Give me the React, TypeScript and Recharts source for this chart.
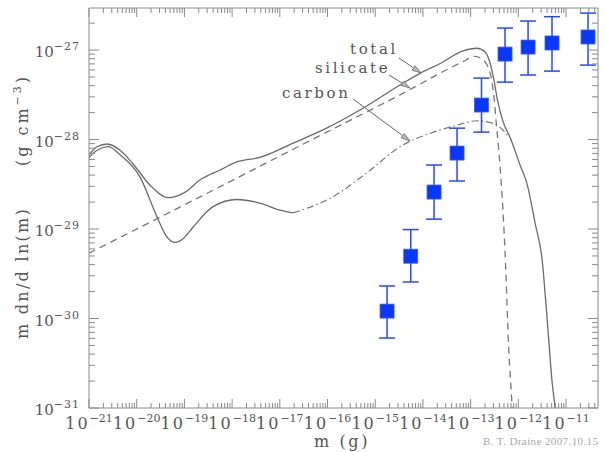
import React from 'react';
import { ComposedChart, Line, Scatter, XAxis, YAxis, ErrorBar } from 'recharts';

// ---- data (log10 values) ----
const totalLogM = [-21, -20.83, -20.62, -20.35, -20.08, -19.72, -19.34, -18.99, -18.67, -18.25, -17.9, -17.42, -16.72, -16.01, -15.32, -14.48, -14.06, -13.64, -13.16, -12.87, -12.7, -12.59, -12.51, -12.43, -12.32, -12.17, -11.96, -11.82, -11.65, -11.5, -11.4, -11.29, -11.23, -11.15];
const totalLogV = [-28.17, -28.08, -28.05, -28.12, -28.27, -28.51, -28.65, -28.59, -28.45, -28.34, -28.25, -28.2, -28.04, -27.87, -27.67, -27.39, -27.26, -27.15, -27.01, -26.98, -27.02, -27.15, -27.34, -27.58, -27.8, -27.98, -28.29, -28.49, -28.93, -29.35, -29.98, -30.72, -31.0, -31.6];

const silLogM = [-21, -18.67, -16.58, -14.48, -13.16, -12.91, -12.74, -12.59, -12.51, -12.45, -12.41, -12.28, -12.2, -12.13, -12.09];
const silLogV = [-29.27, -28.64, -28.07, -27.5, -27.13, -27.07, -27.11, -27.26, -27.53, -27.89, -28.12, -29.24, -30.35, -31.0, -31.5];

const carbonSolidLogM = [-21, -20.83, -20.6, -20.35, -19.93, -19.57, -19.39, -19.2, -19.01, -18.82, -18.4, -17.9, -17.42, -17.0, -16.72];
const carbonSolidLogV = [-28.2, -28.12, -28.08, -28.17, -28.42, -28.87, -29.07, -29.15, -29.1, -28.98, -28.75, -28.67, -28.71, -28.79, -28.82];

const carbonDashLogM = [-16.72, -15.89, -15.17, -14.48, -13.79, -13.29, -12.87, -12.53, -12.28, -12.2];
const carbonDashLogV = [-28.82, -28.64, -28.37, -28.08, -27.92, -27.84, -27.79, -27.82, -27.92, -27.98];

const pointM = [1.77e-15, 5.55e-15, 1.71e-14, 5.19e-14, 1.69e-13, 5.26e-13, 1.6e-12, 5.08e-12, 2.89e-11];
const pointV = [1.21e-30, 4.97e-30, 2.59e-29, 7.06e-29, 2.43e-28, 9.02e-28, 1.08e-27, 1.2e-27, 1.4e-27];
const pointLo = [6.05e-31, 2.56e-30, 1.29e-29, 3.44e-29, 1.21e-28, 4.38e-28, 5.26e-28, 5.82e-28, 6.79e-28];
const pointHi = [2.31e-30, 9.86e-30, 5.19e-29, 1.34e-28, 4.86e-28, 1.76e-27, 2.11e-27, 2.36e-27, 2.59e-27];

const xDecades = [-21, -20, -19, -18, -17, -16, -15, -14, -13, -12, -11];
const yDecades = [-31, -30, -29, -28, -27];
const minorMults = [2, 3, 4, 5, 6, 7, 8, 9];

const X_DOMAIN = [1e-21, Math.pow(10, -10.33)];
const Y_DOMAIN = [1e-31, Math.pow(10, -26.53)];

// ---- build tables ----
const toSeries = (lm: number[], lv: number[]) => lm.map((m, i) => ({ m: Math.pow(10, m), v: Math.pow(10, lv[i]) }));
const totalData = toSeries(totalLogM, totalLogV);
const silData = toSeries(silLogM, silLogV);
const carbonSolidData = toSeries(carbonSolidLogM, carbonSolidLogV);
const carbonDashData = toSeries(carbonDashLogM, carbonDashLogV);
const pointData = pointM.map((m, i) => ({ m, v: pointV[i], err: [pointV[i] - pointLo[i], pointHi[i] - pointV[i]] }));

const buildTicks = (decades: number[], dom: number[]) => {
  const out: number[] = [];
  decades.forEach((d) => {
    out.push(Math.pow(10, d));
    minorMults.forEach((k) => {
      const v = k * Math.pow(10, d);
      if (v < dom[1] * 0.999) out.push(v);
    });
  });
  return out.filter((v) => v >= dom[0] * 0.999 && v <= dom[1] * 1.001);
};
const xTicks = buildTicks(xDecades, X_DOMAIN);
const yTicks = buildTicks(yDecades, Y_DOMAIN);

const AXIS = '#8a8a8a';
const TXT = '#555';
const CURVE = '#6a6a6a';
const SERIF = '"DejaVu Serif", serif';

const isMajor = (v: number) => Math.abs(Math.log10(v) - Math.round(Math.log10(v))) < 1e-6;
const expOf = (v: number) => Math.round(Math.log10(v));

const BottomTick = (props: any) => {
  const { x, y, payload } = props;
  const major = isMajor(payload.value);
  const len = major ? 9 : 5;
  return (
    <g>
      <line x1={x} x2={x} y1={y} y2={y - len} stroke={AXIS} strokeWidth={1} />
      {major && (
        <text x={x} y={y + 21} textAnchor="middle" fill={TXT} fontFamily={SERIF} fontSize={16}>
          <tspan letterSpacing={2}>10</tspan>
          <tspan dy={-7} fontSize={11}>{'\u2212' + Math.abs(expOf(payload.value))}</tspan>
        </text>
      )}
    </g>
  );
};
const TopTick = (props: any) => {
  const { x, y, payload } = props;
  const len = isMajor(payload.value) ? 9 : 5;
  return <line x1={x} x2={x} y1={y} y2={y + len} stroke={AXIS} strokeWidth={1} />;
};
const LeftTick = (props: any) => {
  const { x, y, payload } = props;
  const major = isMajor(payload.value);
  const len = major ? 10 : 6;
  return (
    <g>
      <line x1={x} x2={x + len} y1={y} y2={y} stroke={AXIS} strokeWidth={1} />
      {major && (
        <text x={x - 9} y={y + 7} textAnchor="end" fill={TXT} fontFamily={SERIF} fontSize={15}>
          <tspan>10</tspan>
          <tspan dy={-7} fontSize={11} letterSpacing={1}>{'\u2212' + Math.abs(expOf(payload.value))}</tspan>
        </text>
      )}
    </g>
  );
};
const RightTick = (props: any) => {
  const { x, y, payload } = props;
  const len = isMajor(payload.value) ? 10 : 6;
  return <line x1={x} x2={x - len} y1={y} y2={y} stroke={AXIS} strokeWidth={1} />;
};

const Square = (p: any) => (
  <rect x={p.cx - 7} y={p.cy - 7} width={14} height={14} fill="#0a38fa" stroke="#3a5cff" strokeWidth={0.8} />
);

const Arrow = ({ x1, y1, x2, y2 }: { x1: number; y1: number; x2: number; y2: number }) => {
  const a = Math.atan2(y2 - y1, x2 - x1);
  const L = 9, w = 2.6;
  const bx = x2 - L * Math.cos(a), by = y2 - L * Math.sin(a);
  const px = -Math.sin(a) * w, py = Math.cos(a) * w;
  return (
    <g>
      <line x1={x1} y1={y1} x2={bx} y2={by} stroke="#666" strokeWidth={1} />
      <polygon points={`${x2},${y2} ${bx + px},${by + py} ${bx - px},${by - py}`} fill="#bbb" stroke="#666" strokeWidth={0.8} />
    </g>
  );
};

export default function App() {
  return (
    <div style={{ position: 'absolute', left: 0, top: 0, width: 606, height: 452, background: '#fff' }}>
      <ComposedChart width={606} height={452} margin={{ top: 0, right: 0, bottom: 0, left: 0 }}>
        <XAxis dataKey="m" type="number" scale="log" domain={X_DOMAIN} allowDataOverflow ticks={xTicks} interval={0}
          tick={<BottomTick />} tickLine={false} tickSize={0} tickMargin={0} height={44} axisLine={{ stroke: AXIS }} />
        <XAxis xAxisId="top" orientation="top" dataKey="m" type="number" scale="log" domain={X_DOMAIN} allowDataOverflow ticks={xTicks} interval={0}
          tick={<TopTick />} tickLine={false} tickSize={0} tickMargin={0} height={8} axisLine={{ stroke: AXIS }} />
        <YAxis type="number" scale="log" domain={Y_DOMAIN} allowDataOverflow ticks={yTicks} interval={0}
          tick={<LeftTick />} tickLine={false} tickSize={0} tickMargin={0} width={89} axisLine={{ stroke: AXIS }} />
        <YAxis yAxisId="right" orientation="right" type="number" scale="log" domain={Y_DOMAIN} allowDataOverflow ticks={yTicks} interval={0}
          tick={<RightTick />} tickLine={false} tickSize={0} tickMargin={0} width={8} axisLine={{ stroke: AXIS }} />
        <Line data={silData} dataKey="v" type="monotone" stroke="#777" strokeWidth={1.3} strokeDasharray="7 5" dot={false} activeDot={false} isAnimationActive={false} />
        <Line data={carbonDashData} dataKey="v" type="monotone" stroke="#777" strokeWidth={1.2} strokeDasharray="7 3 1.5 3" dot={false} activeDot={false} isAnimationActive={false} />
        <Line data={carbonSolidData} dataKey="v" type="monotone" stroke={CURVE} strokeWidth={1.3} dot={false} activeDot={false} isAnimationActive={false} />
        <Line data={totalData} dataKey="v" type="monotone" stroke={CURVE} strokeWidth={1.3} dot={false} activeDot={false} isAnimationActive={false} />
        <Scatter data={pointData} dataKey="v" shape={<Square />} isAnimationActive={false}>
          <ErrorBar dataKey="err" direction="y" width={8} stroke="#2448ff" strokeWidth={1.5} />
        </Scatter>
      </ComposedChart>
      <svg width={606} height={452} style={{ position: 'absolute', left: 0, top: 0, pointerEvents: 'none' }}>
        <g fontFamily={SERIF} fontSize={15} fill={TXT} letterSpacing={2.6}>
          <text x={350} y={54}>total</text>
          <text x={315} y={73}>silicate</text>
          <text x={282} y={98}>carbon</text>
          <text x={342} y={447} textAnchor="middle" fontSize={16}>m  (g)</text>
          <text transform="translate(28,273) rotate(-90)" textAnchor="middle" fontSize={16} letterSpacing={2.3}>m dn/d ln(m)</text>
          <text transform="translate(28,120) rotate(-90)" textAnchor="middle" fontSize={16} letterSpacing={3}>
            <tspan>(g  cm</tspan>
            <tspan dy={-7} fontSize={11}>{'\u22123'}</tspan>
            <tspan dy={7}>)</tspan>
          </text>
        </g>
        <Arrow x1={399} y1={58} x2={421} y2={73} />
        <Arrow x1={389} y1={75} x2={410} y2={88} />
        <Arrow x1={353} y1={99} x2={410} y2={141} />
        <text x={483} y={445} fontFamily='"Liberation Serif", serif' fontSize={11} fill="#a8a8a8" letterSpacing={0.4}>B. T. Draine  2007.10.15</text>
      </svg>
    </div>
  );
}
